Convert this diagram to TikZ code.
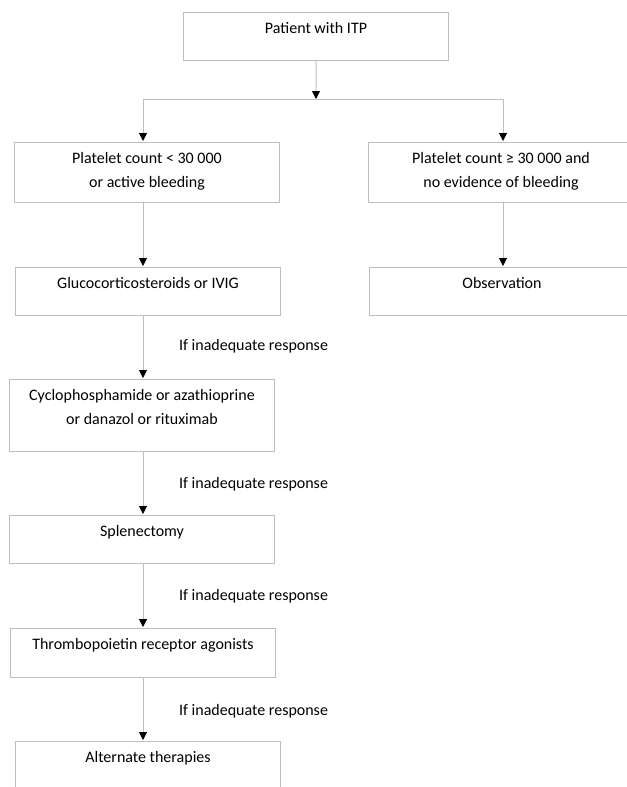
\documentclass[tikz,border=0pt]{standalone}
\usepackage{fontspec}
\setmainfont{Carlito}
\usetikzlibrary{positioning}
\usetikzlibrary{arrows.meta}
\definecolor{linegray}{RGB}{190,190,190}

\begin{document}
\begin{tikzpicture}[
        x=1bp, y=-1bp,
        stepbox/.style={draw=linegray, line width=1bp, anchor=north west, inner sep=0pt, minimum width=265bp},
        boxtext/.style={anchor=north, align=center, inner sep=0pt, yshift=-10bp, font=\fontsize{16bp}{24bp}\selectfont},
        notetext/.style={anchor=west, inner sep=0pt, font=\fontsize{16bp}{24bp}\selectfont},
        conn/.style={draw=linegray, line width=1bp},
        connarrow/.style={conn, shorten >=1bp, -{Triangle[width=8bp, length=8bp, color=black, fill=black]}},
    ]
    
    \useasboundingbox (0,0) rectangle (627,787);
    
    % Columns of the lines
    \coordinate (leftCol) at (143,0);
    \coordinate (rightCol) at (503,0);
    \coordinate (split) at (316,99);
    
    % Objects
    \node[stepbox, minimum height=48bp, label={[boxtext]north:Patient with ITP}] (patient) at (183,12) {};
    \node[stepbox, minimum height=60bp, label={[boxtext]north:Platelet count < 30 000\\or active bleeding}] (lowCount) at (14,142) {};
    \node[stepbox, minimum height=60bp, label={[boxtext]north:Platelet count ≥ 30 000 and\\no evidence of bleeding}] (highCount) at (368,142) {};
    \node[stepbox, minimum height=48bp, label={[boxtext]north:Glucocorticosteroids or IVIG}] (gluco) at (15,267) {};
    \node[stepbox, minimum height=48bp, label={[boxtext]north:Observation}] (observation) at (369,267) {};
    \node[stepbox, minimum height=72bp, label={[boxtext]north:Cyclophosphamide or azathioprine\\or danazol or rituximab}] (secondLine) at (9,379) {};
    \node[stepbox, minimum height=48bp, label={[boxtext]north:Splenectomy}] (splenectomy) at (9,515) {};
    \node[stepbox, minimum height=49bp, label={[boxtext]north:Thrombopoietin receptor agonists}] (tpoAgonists) at (10,628) {};
    \node[stepbox, minimum height=60bp, label={[boxtext]north:Alternate therapies}] (alternate) at (15,741) {};
    
    \node[notetext] (responseOne) at (179,346) {If inadequate response};
    \node[notetext] (responseTwo) at (179,484) {If inadequate response};
    \node[notetext] (responseThree) at (179,596) {If inadequate response};
    \node[notetext] (responseFour) at (179,711) {If inadequate response};
    
    % Lines
    \draw[connarrow, shorten >=0bp] (patient.south) -- (split);
    \draw[conn] (split -| leftCol) -- (split -| rightCol);
    \draw[connarrow] (split -| leftCol) -- (lowCount.north -| leftCol);
    \draw[connarrow] (split -| rightCol) -- (highCount.north -| rightCol);
    \draw[connarrow] (lowCount.south -| leftCol) -- (gluco.north -| leftCol);
    \draw[connarrow] (highCount.south -| rightCol) -- (observation.north -| rightCol);
    \draw[connarrow] (gluco.south -| leftCol) -- (secondLine.north -| leftCol);
    \draw[connarrow] (secondLine.south -| leftCol) -- (splenectomy.north -| leftCol);
    \draw[connarrow] (splenectomy.south -| leftCol) -- (tpoAgonists.north -| leftCol);
    \draw[connarrow] (tpoAgonists.south -| leftCol) -- (alternate.north -| leftCol);
    
\end{tikzpicture}
\end{document}
